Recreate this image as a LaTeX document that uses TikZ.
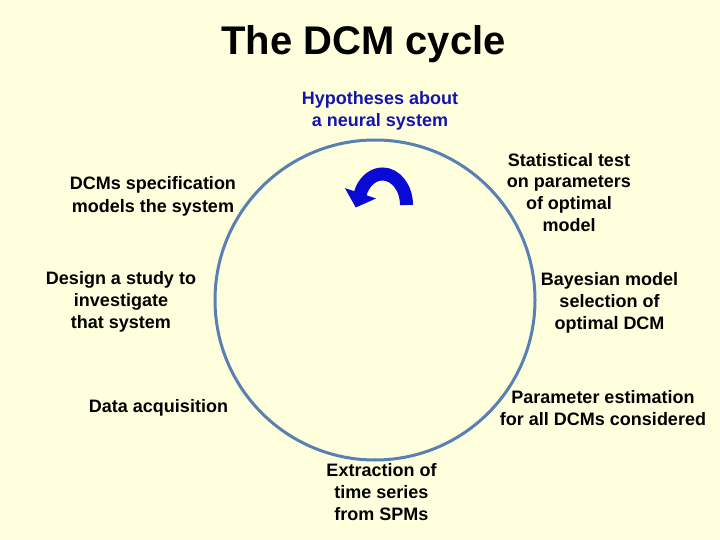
\documentclass[tikz,border=0pt]{standalone}
\usepackage{fontspec}
\setmainfont{Liberation Sans}
\usetikzlibrary{arrows.meta}
\definecolor{slidebg}{RGB}{255,255,221}
\definecolor{ringblue}{RGB}{88,128,178}
\definecolor{hypblue}{RGB}{20,20,175}
\definecolor{turnblue}{RGB}{10,10,215}
\tikzset{
  stagetext/.style={
    align=center,
    anchor=base,
    inner sep=0pt,
    font=\fontsize{18}{22}\selectfont\bfseries
  },
  cyclering/.style={
    draw=ringblue,
    line width=3pt
  },
  turnarrow/.style={
    draw=turnblue,
    line width=13pt,
    -{Triangle[width=32pt,length=15pt]}
  }
}

\begin{document}
\begin{tikzpicture}[x=1pt,y=-1pt]
    \fill[slidebg] (0,0) rectangle (720,540);
    \useasboundingbox (0,0) rectangle (720,540);
    % title
    \node[anchor=base,inner sep=0pt,font=\fontsize{40}{46}\selectfont\bfseries] (title) at (363.5,55) {The DCM cycle};
    % the cycle
    \draw[cyclering] (375,300) circle (160);
    \draw[turnarrow] (406.5,205) arc[start angle=0,end angle=-150,x radius=24,y radius=31] -- ++(-6,18);
    % stages (base = last line)
    \node[stagetext,text=hypblue] (hypo) at (380,127) {Hypotheses about\\a neural system};
    \node[stagetext] (stats) at (569,232) {Statistical test\\on parameters\\of optimal\\model};
    \node[stagetext] (bms) at (609.5,329) {Bayesian model\\selection of\\optimal DCM};
    \node[stagetext] (estim) at (603,425) {Parameter estimation\\for all DCMs considered};
    \node[stagetext] (extract) at (381.5,520) {Extraction of\\time series\\from SPMs};
    \node[stagetext] (acq) at (158.5,412) {Data acquisition};
    \node[stagetext] (design) at (121,328) {Design a study to\\investigate\\that system};
    \node[stagetext] (spec) at (153,212) {DCMs specification\\models the system};
\end{tikzpicture}
\end{document}
